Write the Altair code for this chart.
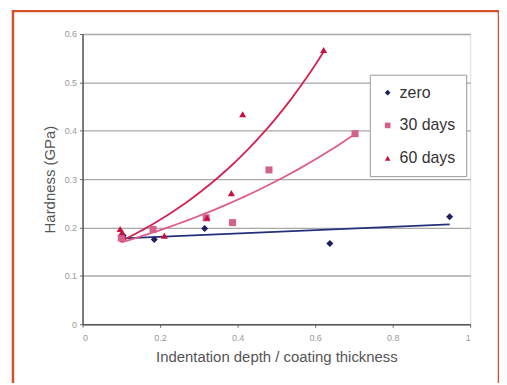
import altair as alt
import pandas as pd

series_names = ["zero", "30 days", "60 days"]
point_colors = ["#1c2060", "#d4608c", "#c81040"]
line_colors = ["#26307a", "#de5c8a", "#d42050"]
shapes = ["diamond", "square", "triangle-up"]

zero_x = [0.105, 0.185, 0.315, 0.638, 0.947]
zero_y = [0.183, 0.175, 0.198, 0.167, 0.222]
d30_x = [0.100, 0.182, 0.319, 0.387, 0.481, 0.703]
d30_y = [0.178, 0.196, 0.220, 0.210, 0.319, 0.394]
d60_x = [0.097, 0.102, 0.211, 0.321, 0.384, 0.413, 0.622]
d60_y = [0.197, 0.190, 0.183, 0.220, 0.271, 0.434, 0.567]

x_ticks = [0, 0.2, 0.4, 0.6, 0.8, 1]
y_ticks = [0, 0.1, 0.2, 0.3, 0.4, 0.5, 0.6]

rows = []
for name, xs, ys in [("zero", zero_x, zero_y), ("30 days", d30_x, d30_y), ("60 days", d60_x, d60_y)]:
    for a, b in zip(xs, ys):
        rows.append({"series": name, "x": a, "y": b})
df = pd.DataFrame(rows)

xscale = alt.Scale(domain=[0, 1], nice=False)
yscale = alt.Scale(domain=[0, 0.6], nice=False)

xenc = alt.X("x:Q", scale=xscale, axis=alt.Axis(
    values=x_ticks, format=".1~f", title="Indentation depth / coating thickness",
    grid=False, domainColor="#555", domainWidth=1.5, tickColor="#666", tickSize=3,
    labelFontSize=9, labelColor="#999", labelPadding=6,
    titleFontSize=15, titleColor="#555", titleFontWeight="normal", titlePadding=8))
yenc = alt.Y("y:Q", scale=yscale, axis=alt.Axis(
    values=y_ticks, format=".1~f", title="Hardness (GPa)",
    grid=True, gridColor="#a8a8a8", gridWidth=1.3,
    domainColor="#555", domainWidth=1.5, tickColor="#666", tickSize=3,
    labelFontSize=9, labelColor="#999", labelPadding=3,
    titleFontSize=15, titleColor="#555", titleFontWeight="normal", titlePadding=7))

leg = alt.Legend(title=None, orient="none", legendX=289, legendY=41,
                 fillColor="white", strokeColor="#999", padding=10,
                 labelFontSize=16, labelColor="#333", symbolSize=32,
                 rowPadding=17, labelOffset=4, symbolStrokeWidth=0)

base = alt.Chart(df)

points = base.mark_point(filled=True, size=50, opacity=1).encode(
    x=xenc, y=yenc,
    color=alt.Color("series:N", scale=alt.Scale(domain=series_names, range=point_colors), legend=leg),
    shape=alt.Shape("series:N", scale=alt.Scale(domain=series_names, range=shapes), legend=leg),
)

fit_layers = []
for name, col in zip(series_names, line_colors):
    method = "linear" if name == "zero" else "exp"
    fit_layers.append(
        base.transform_filter(alt.datum.series == name)
        .transform_regression("x", "y", method=method)
        .mark_line(color=col, strokeWidth=1.8)
        .encode(x=alt.X("x:Q", scale=xscale), y=alt.Y("y:Q", scale=yscale))
    )

frame = alt.Chart(pd.DataFrame({"a": [0]})).mark_rect(
    fill="white", fillOpacity=0, stroke="#d4502a", strokeWidth=2.5
).encode(x=alt.value(-70), x2=alt.value(419), y=alt.value(-23), y2=alt.value(400))

chart = alt.layer(*fit_layers, points, frame).properties(
    width=390, height=292,
    autosize=alt.AutoSizeParams(type="none"),
    padding={"left": 75, "top": 25, "right": 29, "bottom": 58},
).configure_view(stroke="#777", strokeWidth=1.3).configure(
    font="Liberation Sans", background="white")

chart.save("out.html", embed_options={"renderer": "svg", "actions": False})
